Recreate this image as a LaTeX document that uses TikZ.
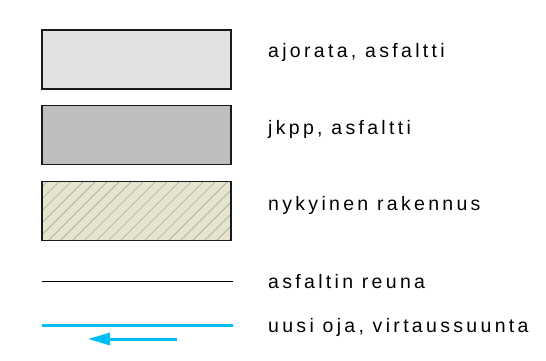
\documentclass[tikz,border=0pt]{standalone}
\usepackage{fontspec}
\setmainfont{Liberation Sans}[LetterSpace=17]
\usepackage{xcolor}
\usetikzlibrary{arrows.meta,patterns.meta}
\definecolor{road}{HTML}{E1E1E1}
\definecolor{walk}{HTML}{BEBEBE}
\definecolor{house}{HTML}{E6E4CE}
\definecolor{hatch}{HTML}{A8A8A0}
\definecolor{edge}{HTML}{1A1A1A}
\definecolor{ditch}{HTML}{00BEF2}
\tikzset{
  swatch/.style={draw=edge, line width=1.4pt, minimum width=189pt, minimum height=59pt, inner sep=0pt},
  lab/.style={anchor=base west, inner sep=0pt, font=\fontsize{19.5}{22}\selectfont},
  rim/.style={draw=black, line width=1pt},
  wet/.style={draw=ditch, line width=3pt},
}

\begin{document}
\begin{tikzpicture}[x=1pt,y=-1pt]
  \useasboundingbox (0,0) rectangle (546,361);
  \node[swatch, fill=road] (ajorata) at (136.5,59.5) {};
  \node[swatch, fill=walk] (jkpp) at (136.5,135) {};
  \node[swatch, preaction={fill=house}, pattern={Lines[angle=45,distance=8.5pt,line width=0.6pt]}, pattern color=hatch] (rakennus) at (136.5,211) {};
  \coordinate (reunaA) at (42,281);
  \coordinate (reunaB) at (233,281);
  \draw[rim] (reunaA) -- (reunaB);
  \coordinate (ojaA) at (42,325);
  \coordinate (ojaB) at (233,325);
  \draw[wet] (ojaA) -- (ojaB);
  \coordinate (virtaA) at (177,339);
  \coordinate (virtaB) at (88,339);
  \draw[wet, -{Triangle[length=22pt,width=12pt]}] (virtaA) -- (virtaB);
  \node[lab] (t1) at (268,58) {ajorata, asfaltti};
  \node[lab] (t2) at (268,134) {jkpp, asfaltti};
  \node[lab] (t3) at (268,210) {nykyinen rakennus};
  \node[lab] (t4) at (268,288) {asfaltin reuna};
  \node[lab] (t5) at (268,332) {uusi oja, virtaussuunta};
\end{tikzpicture}
\end{document}
